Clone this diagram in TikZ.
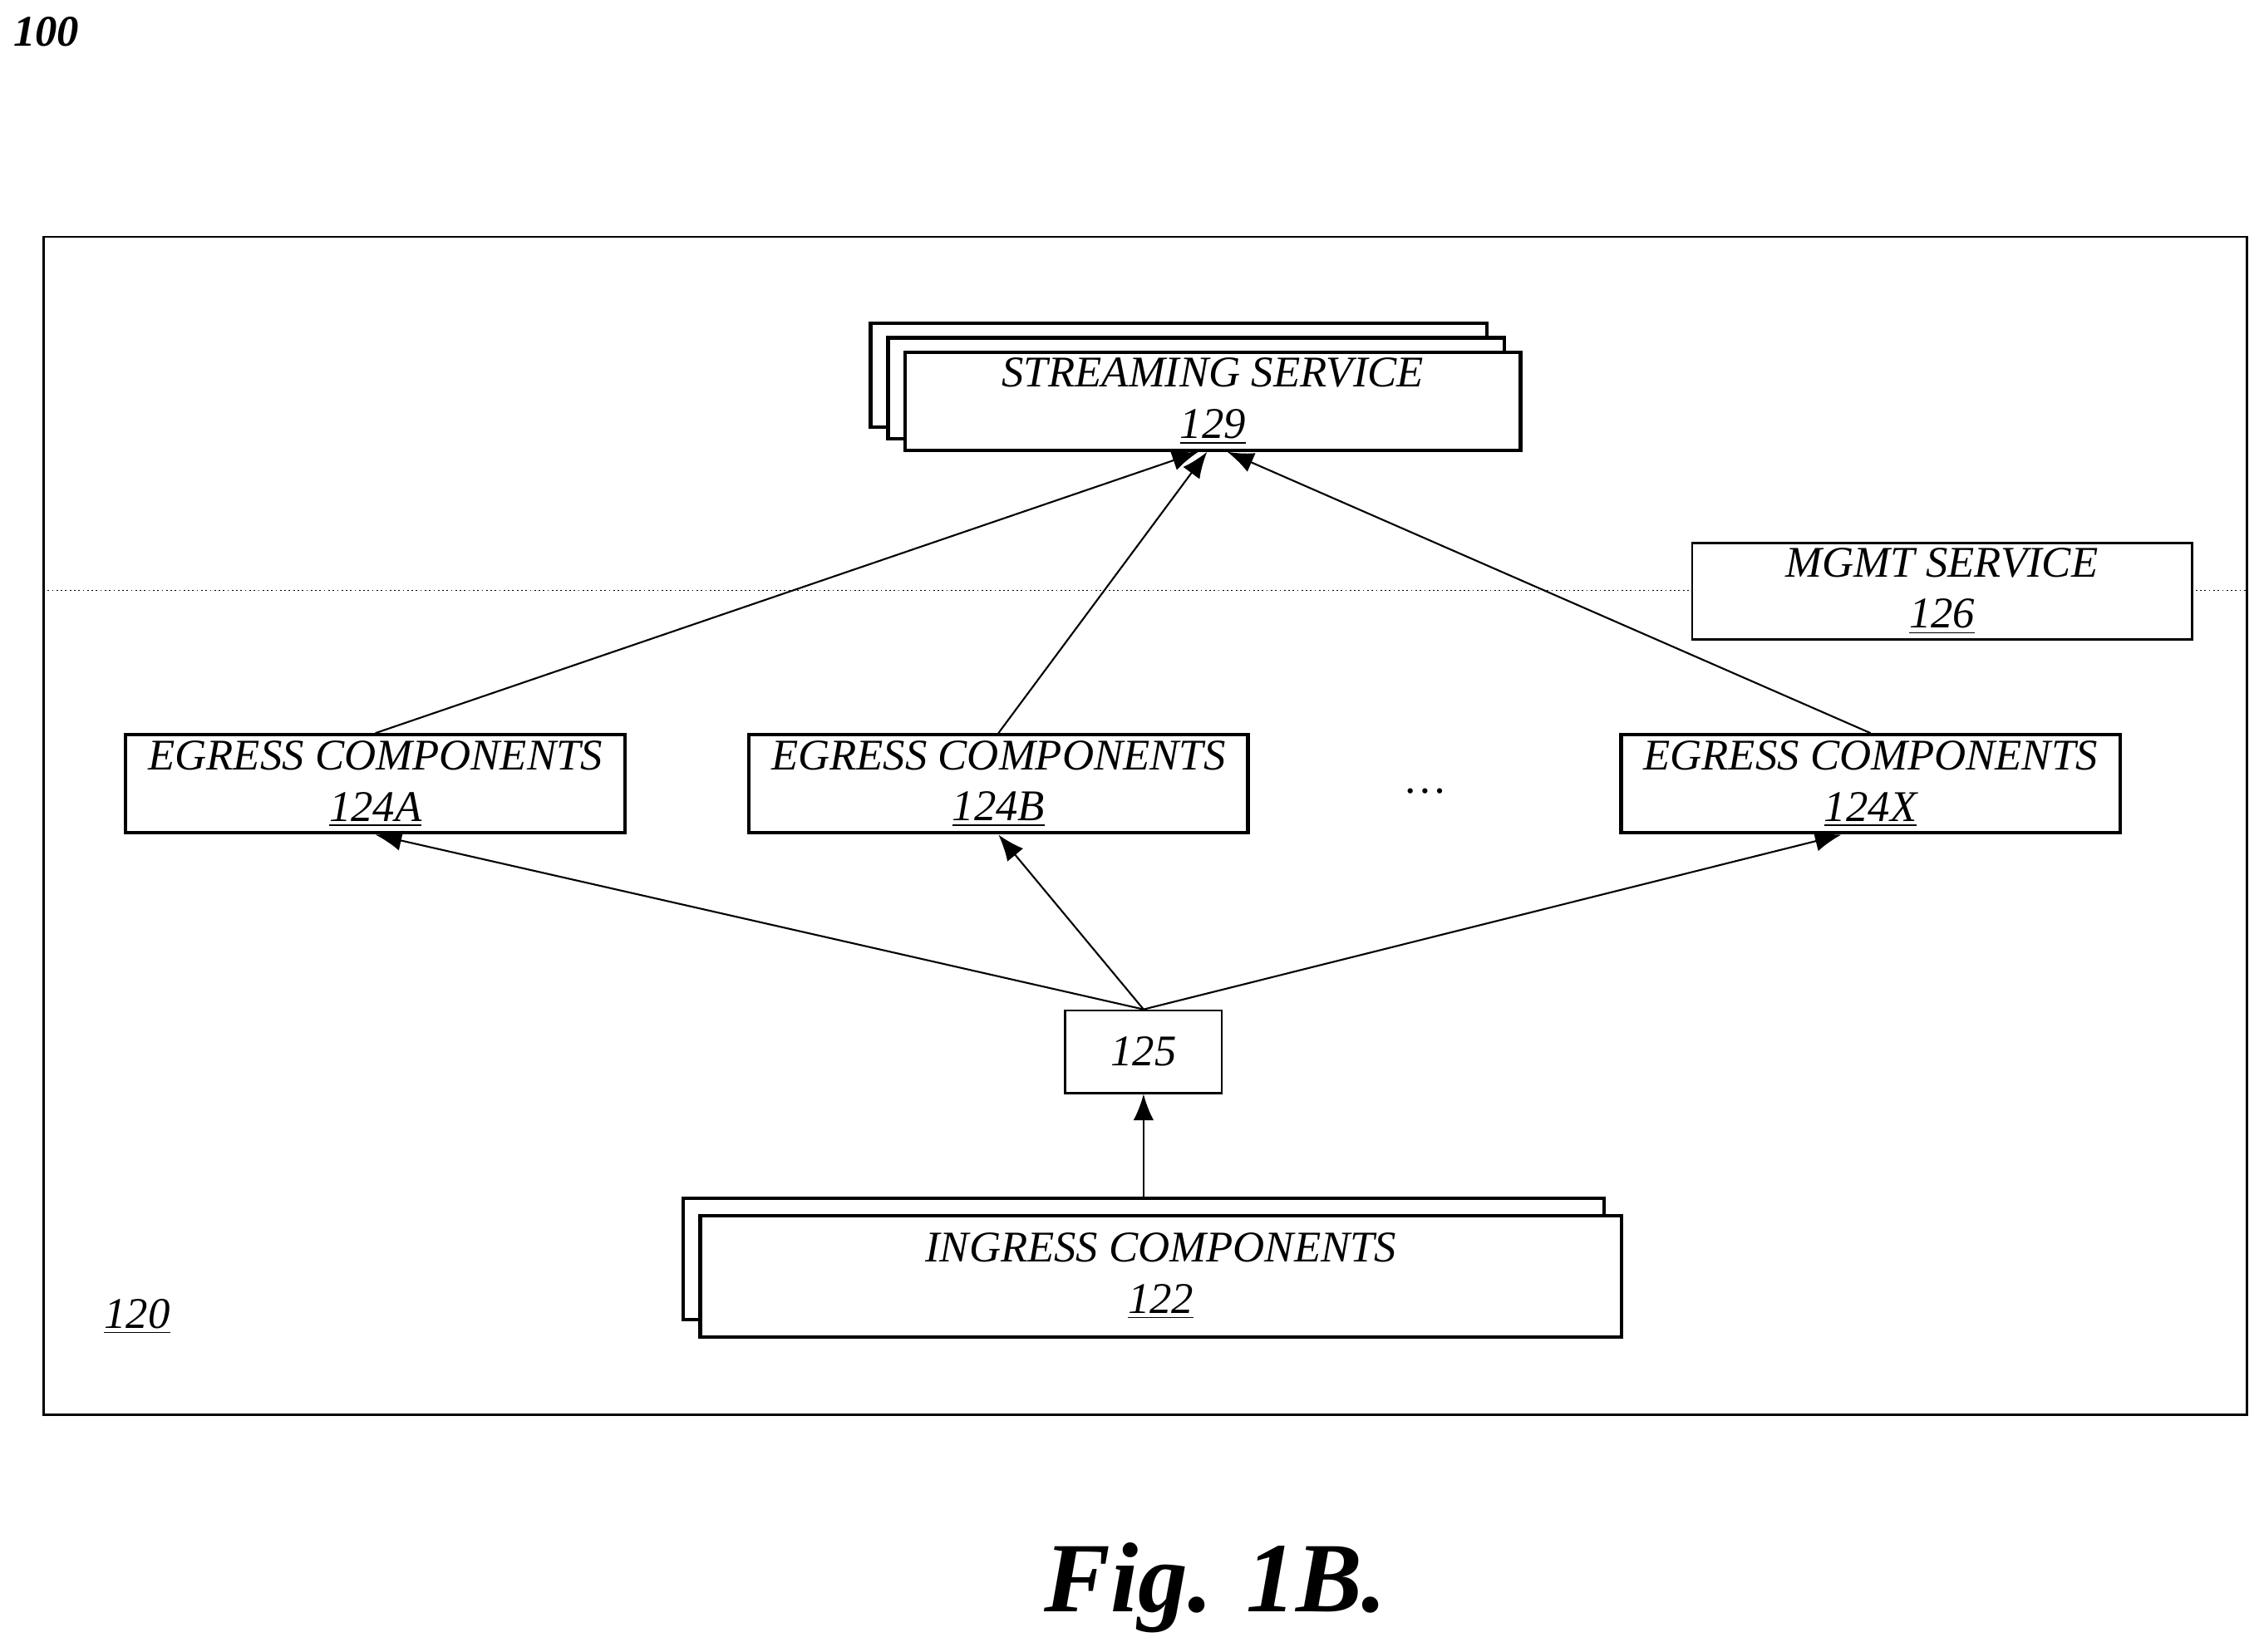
\documentclass[tikz,border=0pt]{standalone}
\usepackage{fontspec}
\setmainfont{Liberation Serif}
\usepackage{tikz}
\usetikzlibrary{arrows.meta}
\newcommand{\lbl}[2]{\textit{#1}\\\textit{\underline{#2}}}
\begin{document}
\begin{tikzpicture}[x=0.01737cm,y=-0.01737cm,
    every node/.style = {align=center, font=\fontsize{15}{17.5}\selectfont, inner sep=0pt},
    box/.style = {draw=black, line width=1.2pt, fill=white},
    arr/.style = {draw, -{Latex[length=9pt,width=7pt]}, line width=0.6pt}
  ]
  \useasboundingbox (0,0) rectangle (1568,1144);
  \node (fignum) at (32,22) {\textbf{\textit{100}}};
  \draw[line width=0.8pt] (30,164) rectangle (1556,980);
  \draw[densely dotted, line width=0.5pt] (30,409) -- (1556,409);

  % streaming service stack
  \draw[box] (603,224) rectangle (1030,296);
  \draw[box] (615,234) rectangle (1042,304);
  \node (stream) [box, minimum width=7.4cm, minimum height=1.18cm] at (840,278) {\lbl{STREAMING SERVICE}{129}};

  \node (mgmt) [draw, fill=white, line width=0.8pt, minimum width=6.01cm, minimum height=1.16cm] at (1345,409.5) {\lbl{MGMT SERVICE}{126}};

  \node (egressA) [box, minimum width=6.01cm, minimum height=1.18cm] at (260,543) {\lbl{EGRESS COMPONENTS}{124A}};
  \node (egressB) [box, minimum width=6.0cm, minimum height=1.18cm] at (691.5,543) {\lbl{EGRESS COMPONENTS}{124B}};
  \node (egressX) [box, minimum width=6.0cm, minimum height=1.18cm] at (1295.5,543) {\lbl{EGRESS COMPONENTS}{124X}};
  \node (dots) at (987,548) {\dots};

  \node (queue) [draw, line width=0.8pt, minimum width=1.88cm, minimum height=0.99cm] at (792,728.5) {\textit{125}};

  \draw[box] (473,830) rectangle (1111,914);
  \node (ingress) [box, minimum width=11.08cm, minimum height=1.46cm] at (804,884) {\lbl{INGRESS COMPONENTS}{122}};

  \node (sys) at (95,912) {\textit{\underline{120}}};
  \node (caption) at (842,1100) {\fontsize{34}{40}\selectfont\textbf{\textit{Fig. 1B.}}};

  \coordinate (inA) at (830,313);
  \coordinate (inB) at (836,313);
  \coordinate (inX) at (850,313);
  \draw[arr] (egressA.north) -- (inA);
  \draw[arr] (egressB.north) -- (inB);
  \draw[arr] (egressX.north) -- (inX);
  \draw[arr] (queue.north) -- (egressA.south);
  \draw[arr] (queue.north) -- (egressB.south);
  \draw[arr] (queue.north) -- ([xshift=-10pt]egressX.south);
  \draw[arr] (792,830) -- (queue.south);
\end{tikzpicture}
\end{document}
